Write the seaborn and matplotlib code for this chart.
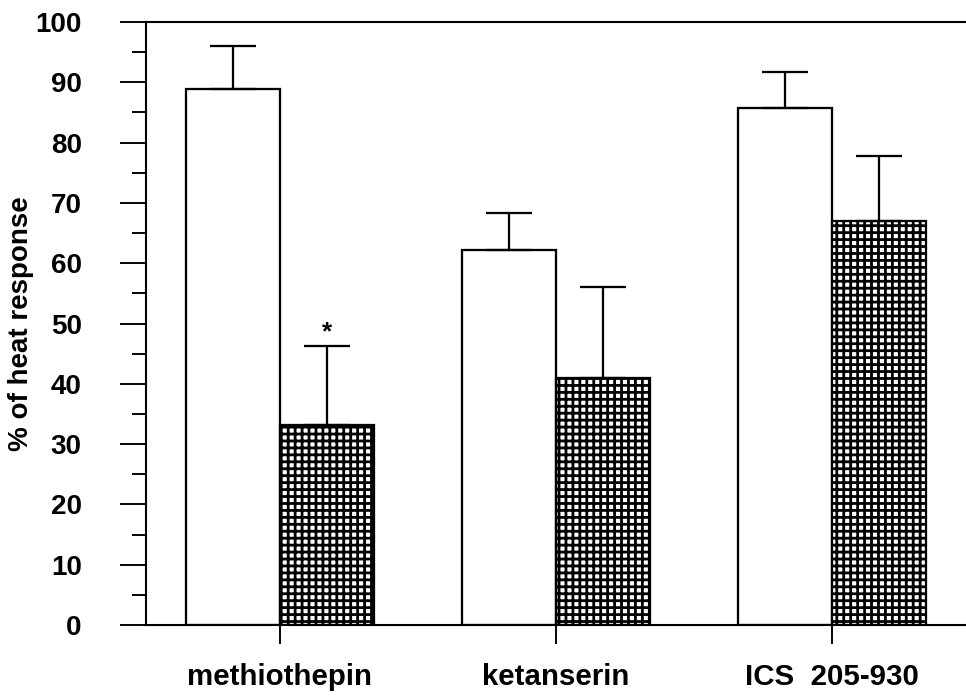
import numpy as np
import pandas as pd
import matplotlib
matplotlib.use("Agg")
import matplotlib.pyplot as plt
import seaborn as sns

# values
drugs = ["methiothepin", "ketanserin", "ICS  205-930"]
conditions = ["control", "treated"]
control_mean = [88.9, 62.2, 85.8]
control_err = [7.1, 6.1, 5.9]
treated_mean = [33.1, 41.0, 67.0]
treated_err = [13.2, 15.1, 10.8]
signif = [True, False, False]

df = pd.DataFrame({
    "drug": drugs * 2,
    "condition": [conditions[0]] * 3 + [conditions[1]] * 3,
    "value": control_mean + treated_mean,
})

sns.set_style("ticks")
plt.rcParams["font.family"] = ["Liberation Sans", "DejaVu Sans"]
plt.rcParams["font.weight"] = "bold"
plt.rcParams["text.color"] = "black"
plt.rcParams["xtick.color"] = "black"
plt.rcParams["ytick.color"] = "black"
plt.rcParams["axes.labelcolor"] = "black"
plt.rcParams["hatch.linewidth"] = 1.6
plt.rcParams["hatch.color"] = "black"

DPI = 125
fig = plt.figure(figsize=(966 / DPI, 700 / DPI), dpi=DPI)
ax = fig.add_axes([146 / 966, 75 / 700, 820 / 966, 603 / 700])

sns.barplot(data=df, x="drug", y="value", hue="condition", order=drugs,
            hue_order=conditions, palette=["white", "white"], width=0.68,
            errorbar=None, edgecolor="black", linewidth=1.3, legend=False,
            ax=ax)

# hatch the treated bars
for p in ax.containers[1]:
    p.set_hatch("+++")

# upward-only error bars
for cont, err_list in zip(ax.containers, [control_err, treated_err]):
    xs = [p.get_x() + p.get_width() / 2 for p in cont]
    ys = [p.get_height() for p in cont]
    ax.errorbar(xs, ys, yerr=[np.zeros(len(ys)), err_list], fmt="none",
                ecolor="black", elinewidth=1.3, capsize=13, capthick=1.3,
                zorder=1)

# significance marks
for p, e, s in zip(ax.containers[1], treated_err, signif):
    if s:
        ax.text(p.get_x() + p.get_width() / 2, p.get_height() + e + 0.3, "*",
                ha="center", va="bottom", fontsize=15, fontweight="bold")

ax.set_xlim(-0.4855, 2.4855)
ax.set_ylim(0, 100)
ax.set_yticks(np.arange(0, 101, 10))
ax.set_yticks(np.arange(5, 100, 10), minor=True)
ax.tick_params(axis="y", which="major", length=15, width=1.1, pad=22,
               labelsize=16)
ax.tick_params(axis="y", which="minor", length=8, width=1.1)
ax.tick_params(axis="x", length=11, width=1.1, pad=11, labelsize=17)

for side in ["left", "bottom", "top"]:
    ax.spines[side].set_linewidth(1.2)
    ax.spines[side].set_color("black")
ax.spines["right"].set_visible(False)

ax.set_xlabel("")
ax.set_ylabel("% of heat response", fontsize=16, fontweight="bold",
              va="center")
ax.yaxis.set_label_coords(-0.1524, 0.5)

fig.savefig("out.png", dpi=DPI, facecolor="white")
